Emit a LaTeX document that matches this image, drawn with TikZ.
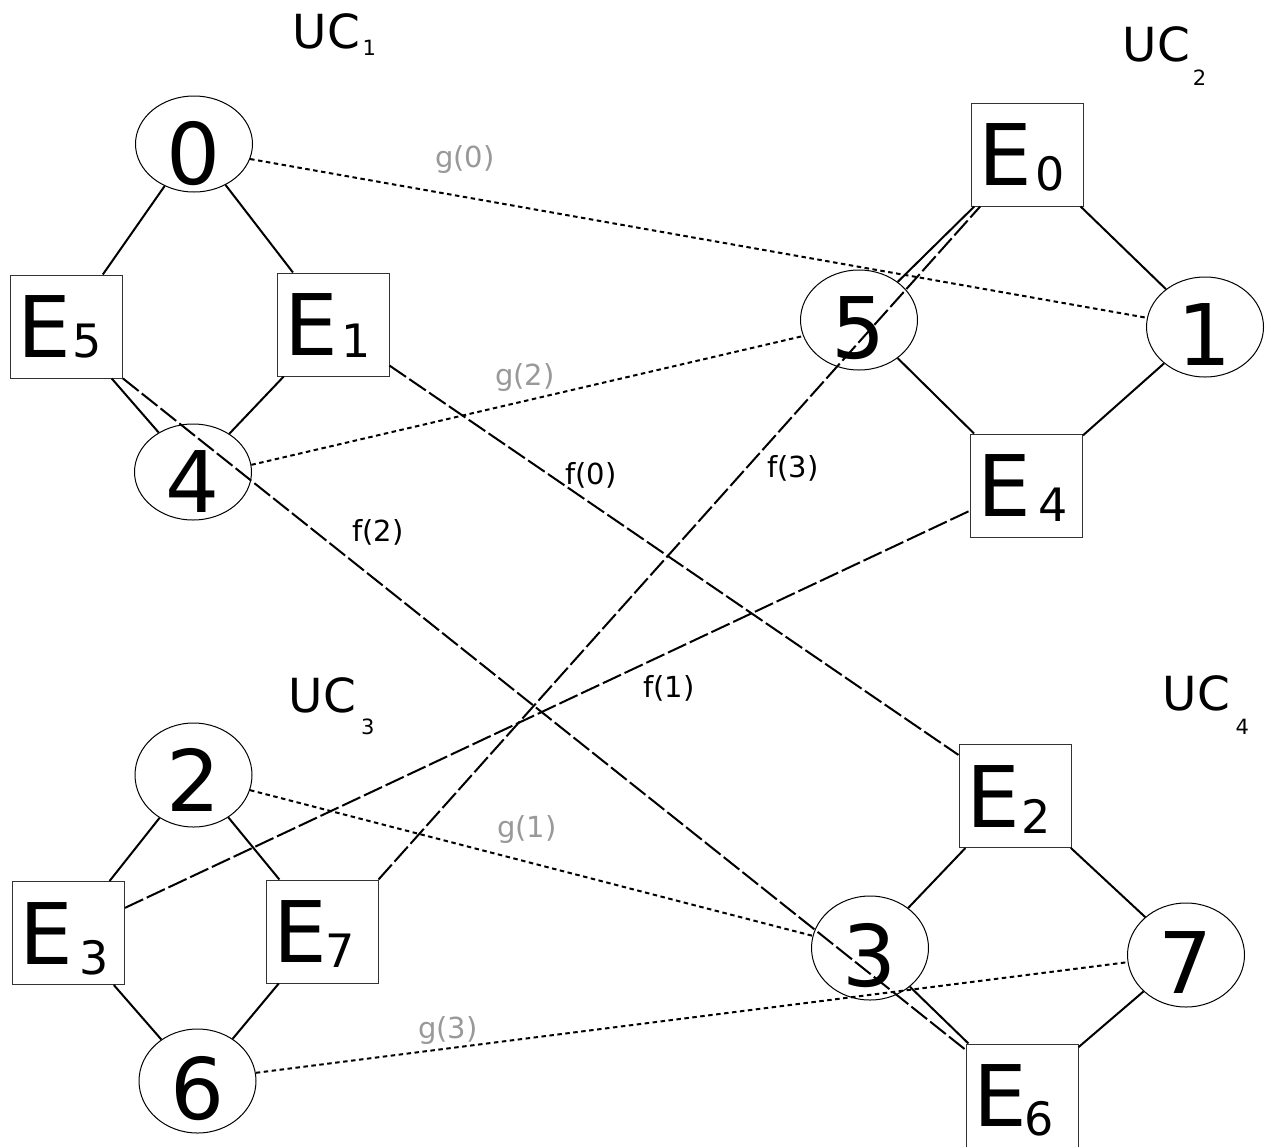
\documentclass[tikz,border=0pt]{standalone}
\usepackage{fontspec}
\setmainfont{DejaVu Sans}
\usetikzlibrary{shapes.geometric}
\definecolor{glabgray}{HTML}{999999}
\newcommand\digitlab[2][38]{\makebox[0pt]{\raisebox{-#1pt}[0pt][0pt]{\fontsize{85}{85}\selectfont #2}}}
\newcommand\elab[3]{\makebox[0pt][l]{\hspace{-49pt}\raisebox{-31pt}[0pt][0pt]{\fontsize{85}{85}\selectfont E\hspace{#2pt}\raisebox{-#3pt}{\fontsize{46}{46}\selectfont #1}}}}
\newcommand\uclab[3]{\fontsize{47}{47}\selectfont UC\hspace{#2pt}\raisebox{-#3pt}{\fontsize{21}{21}\selectfont #1}}
\tikzset{
  vtx/.style={ellipse, draw, line width=1pt, minimum width=117pt, minimum height=102pt, inner sep=0pt},
  ebox/.style={rectangle, draw=black!80, line width=1pt, minimum width=112pt, minimum height=103pt, inner sep=0pt},
  solidlink/.style={line width=2pt},
  fmap/.style={line width=2pt, dash pattern=on 20pt off 4pt},
  gmap/.style={line width=2pt, dash pattern=on 4.5pt off 3.5pt},
  flab/.style={font=\fontsize{29}{29}\selectfont, inner sep=0pt},
  glab/.style={flab, text=glabgray},
  uc/.style={anchor=base west, inner sep=0pt}
}
\begin{document}
\begin{tikzpicture}[x=1pt, y=-1pt]
\useasboundingbox (0,0) rectangle (1271,1146);
% UC labels
\node[uc] (uc1) at (292.7,48) {\uclab{1}{2.4}{7}};
\node[uc] (uc2) at (1122.7,61) {\uclab{2}{2.8}{24}};
\node[uc] (uc3) at (288.7,712) {\uclab{3}{5}{22}};
\node[uc] (uc4) at (1162.7,710) {\uclab{4}{5.5}{24}};
% UC1
\node[vtx, minimum height=96pt] (n0) at (194,144) {\digitlab[40]{0}};
\node[ebox] (E5) at (66.5,326.5) {\elab{5}{1.5}{0}};
\node[ebox] (E1) at (333,324.5) {\elab{1}{4}{2}};
\node[vtx, minimum height=96pt] (n4) at (193,472) {\digitlab[40]{4}};
% UC2
\node[ebox] (E0) at (1027,154.5) {\elab{0}{4}{5}};
\node[vtx, minimum height=100pt] (n5) at (859,320) {\digitlab{5}};
\node[vtx, minimum height=100pt] (n1) at (1205,327) {\digitlab{1}};
\node[ebox] (E4) at (1026.5,485.5) {\elab{4}{7}{5}};
% UC3
\node[vtx, minimum height=104pt] (n2) at (193.5,775) {\digitlab[36]{2}};
\node[ebox] (E3) at (68.5,933) {\elab{3}{6.5}{10}};
\node[ebox] (E7) at (322,931.5) {\elab{7}{-1.5}{5}};
\node[vtx, minimum height=104pt] (n6) at (197.5,1081) {\digitlab{6}};
% UC4
\node[ebox] (E2) at (1015,796) {\elab{2}{1.5}{6}};
\node[vtx, minimum height=104pt] (n3) at (870,948) {\digitlab{3}};
\node[vtx, minimum height=104pt] (n7) at (1186,955) {\digitlab{7}};
\node[ebox] (E6) at (1022,1095.5) {\elab{6}{-2.5}{9}};
% solid edges
\draw[solidlink] (n0) -- (E5);
\draw[solidlink] (n0) -- (E1);
\draw[solidlink] (E5) -- (n4);
\draw[solidlink] (E1) -- (n4);
\draw[solidlink] (E0) -- (n5);
\draw[solidlink] (E0) -- (n1);
\draw[solidlink] (n5) -- (E4);
\draw[solidlink] (n1) -- (E4);
\draw[solidlink] (n2) -- (E3);
\draw[solidlink] (n2) -- (E7);
\draw[solidlink] (E3) -- (n6);
\draw[solidlink] (E7) -- (n6);
\draw[solidlink] (E2) -- (n3);
\draw[solidlink] (E2) -- (n7);
\draw[solidlink] (n3) -- (E6);
\draw[solidlink] (n7) -- (E6);
% g maps (dotted)
\draw[gmap] (n0.-15) -- (n1.171);
\draw[gmap] (n4.7) -- (n5.196);
\draw[gmap] (n2.-15) -- (n3.168);
\draw[gmap] (n6.8) -- (n7.187);
% f maps (long dashes)
\draw[fmap] (E1.-36) -- (E2.144);
\draw[fmap] (E5.south east) -- (E6.141);
\draw[fmap] (E7.north east) -- (E0.228);
\draw[fmap] (E3.24) -- (E4.204);
% labels
\node[glab] (lg0) at (465,160) {g(0)};
\node[glab] (lg2) at (525,378) {g(2)};
\node[glab] (lg1) at (527,830) {g(1)};
\node[glab] (lg3) at (448,1030) {g(3)};
\node[flab] (lf0) at (591,475) {f(0)};
\node[flab] (lf2) at (378,532) {f(2)};
\node[flab] (lf3) at (793,468) {f(3)};
\node[flab] (lf1) at (669,688) {f(1)};
\end{tikzpicture}
\end{document}
